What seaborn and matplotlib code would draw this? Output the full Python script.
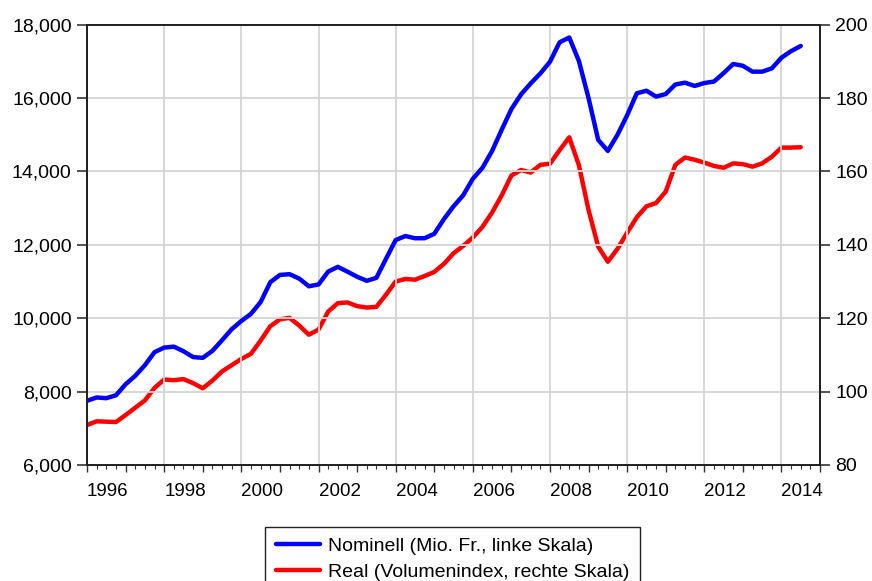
import matplotlib
matplotlib.use('Agg')

import numpy as np
import pandas as pd
import matplotlib.pyplot as plt
import matplotlib.ticker as mticker
import seaborn as sns

# quarterly observations, 1996Q1 .. 2014Q3
start_year = 1996
nominal = [
    7750, 7840, 7820, 7900,
    8200, 8430, 8720, 9075,
    9200, 9225, 9100, 8940,
    8920, 9110, 9400, 9700,
    9925, 10120, 10440, 10980,
    11180, 11200, 11080, 10870,
    10920, 11270, 11400, 11270,
    11130, 11020, 11100, 11620,
    12130, 12240, 12180, 12180,
    12300, 12700, 13050, 13350,
    13800, 14100, 14560, 15140,
    15700, 16100, 16400, 16670,
    16990, 17520, 17650, 17010,
    16000, 14860, 14560, 15000,
    15530, 16130, 16200, 16040,
    16110, 16370, 16420, 16330,
    16410, 16450, 16680, 16930,
    16880, 16720, 16720, 16810,
    17100, 17280, 17420,
]
real = [
    90.9, 91.9, 91.8, 91.7,
    93.6, 95.6, 97.6, 101.0,
    103.3, 103.1, 103.4, 102.3,
    100.9, 103.0, 105.5, 107.2,
    108.9, 110.3, 113.9, 117.8,
    119.7, 120.1, 118.0, 115.5,
    116.9, 121.8, 124.1, 124.3,
    123.3, 122.9, 123.1, 126.4,
    130.0, 130.7, 130.5, 131.5,
    132.6, 134.8, 137.7, 139.7,
    142.0, 144.9, 148.8, 153.5,
    158.9, 160.4, 159.7, 161.8,
    162.1, 165.8, 169.3, 161.7,
    149.5, 139.5, 135.4, 138.9,
    143.3, 147.5, 150.5, 151.4,
    154.5, 161.8, 163.8, 163.2,
    162.4, 161.5, 161.0, 162.2,
    162.0, 161.3, 162.2, 164.0,
    166.5, 166.5, 166.6,
]
label_nominal = "Nominell (Mio. Fr., linke Skala)"
label_real = "Real (Volumenindex, rechte Skala)"

df = pd.DataFrame({
    "t": start_year + np.arange(len(nominal)) / 4.0,
    "nominal": nominal,
    "real": real,
})

sns.set_style("white")
plt.rcParams['font.family'] = ['Liberation Sans', 'DejaVu Sans']
plt.rcParams['text.color'] = 'black'
plt.rcParams['xtick.color'] = 'black'
plt.rcParams['ytick.color'] = 'black'
plt.rcParams['xtick.labelcolor'] = 'black'
plt.rcParams['ytick.labelcolor'] = 'black'

fig = plt.figure(figsize=(8.72, 5.81), dpi=100)
ax = fig.add_axes([0.0998, 0.1997, 0.8406, 0.7578])
ax2 = ax.twinx()

sns.lineplot(data=df, x="t", y="nominal", ax=ax, color="#0000ff", linewidth=3.2,
             label=label_nominal, solid_capstyle='round', solid_joinstyle='round',
             legend=False)
sns.lineplot(data=df, x="t", y="real", ax=ax2, color="#ff0000", linewidth=3.2,
             label=label_real, solid_capstyle='round', solid_joinstyle='round',
             legend=False)

ax.set_xlim(1996, 2015)
ax.set_ylim(6000, 18000)
ax2.set_ylim(80, 200)
ax.set_xlabel("")
ax.set_ylabel("")
ax2.set_ylabel("")

ax.yaxis.set_major_locator(mticker.MultipleLocator(2000))
ax.yaxis.set_major_formatter(mticker.FuncFormatter(lambda v, p: f"{int(v):,}"))
ax2.yaxis.set_major_locator(mticker.MultipleLocator(20))

ax.xaxis.set_major_locator(mticker.MultipleLocator(1))
ax.xaxis.set_minor_locator(mticker.MultipleLocator(0.25))
ax.xaxis.set_major_formatter(mticker.FuncFormatter(
    lambda v, p: f"{int(round(v))}" if int(round(v)) % 2 == 0 and v < 2015 else ""))

# grid: horizontal at y ticks, vertical every second year
ax.set_axisbelow(True)
ax.yaxis.grid(True, color="#d4d4d4", linewidth=1.3)
ax.xaxis.grid(False)
ax.vlines(np.arange(1998, 2015, 2), 6000, 18000, color="#d4d4d4", linewidth=1.3, zorder=0)
ax.set_zorder(ax2.get_zorder() + 1)
ax.patch.set_visible(False)

ax.tick_params(axis='y', which='major', direction='out', length=7, width=1.2,
               labelsize=14, pad=4, left=True, color='#333333')
ax.tick_params(axis='x', which='major', direction='out', length=5, width=1.0,
               labelsize=13.5, pad=8, bottom=True, color='#333333')
ax.tick_params(axis='x', which='minor', direction='out', length=3, width=0.8,
               bottom=True, color='#333333')
for lbl in ax.get_xticklabels():
    lbl.set_ha('left')
ax2.tick_params(axis='y', which='major', direction='out', length=7, width=1.2,
                labelsize=14, pad=4, right=True, color='#333333')

for a in (ax, ax2):
    for s in a.spines.values():
        s.set_visible(True)
        s.set_color('#222222')
        s.set_linewidth(1.4)

handles = ax.get_lines()[:1] + ax2.get_lines()[:1]
leg = fig.legend(handles, [label_nominal, label_real], loc='upper center',
                 bbox_to_anchor=(0.519, 0.093), fontsize=14, frameon=True,
                 fancybox=False, framealpha=1, edgecolor='#222222',
                 handlelength=2.3, handletextpad=0.4, labelspacing=0.42,
                 borderpad=0.55, borderaxespad=0)
leg.get_frame().set_linewidth(1.0)
for t in leg.get_texts():
    t.set_color('black')

fig.savefig("out.png", dpi=100)
plt.close(fig)
